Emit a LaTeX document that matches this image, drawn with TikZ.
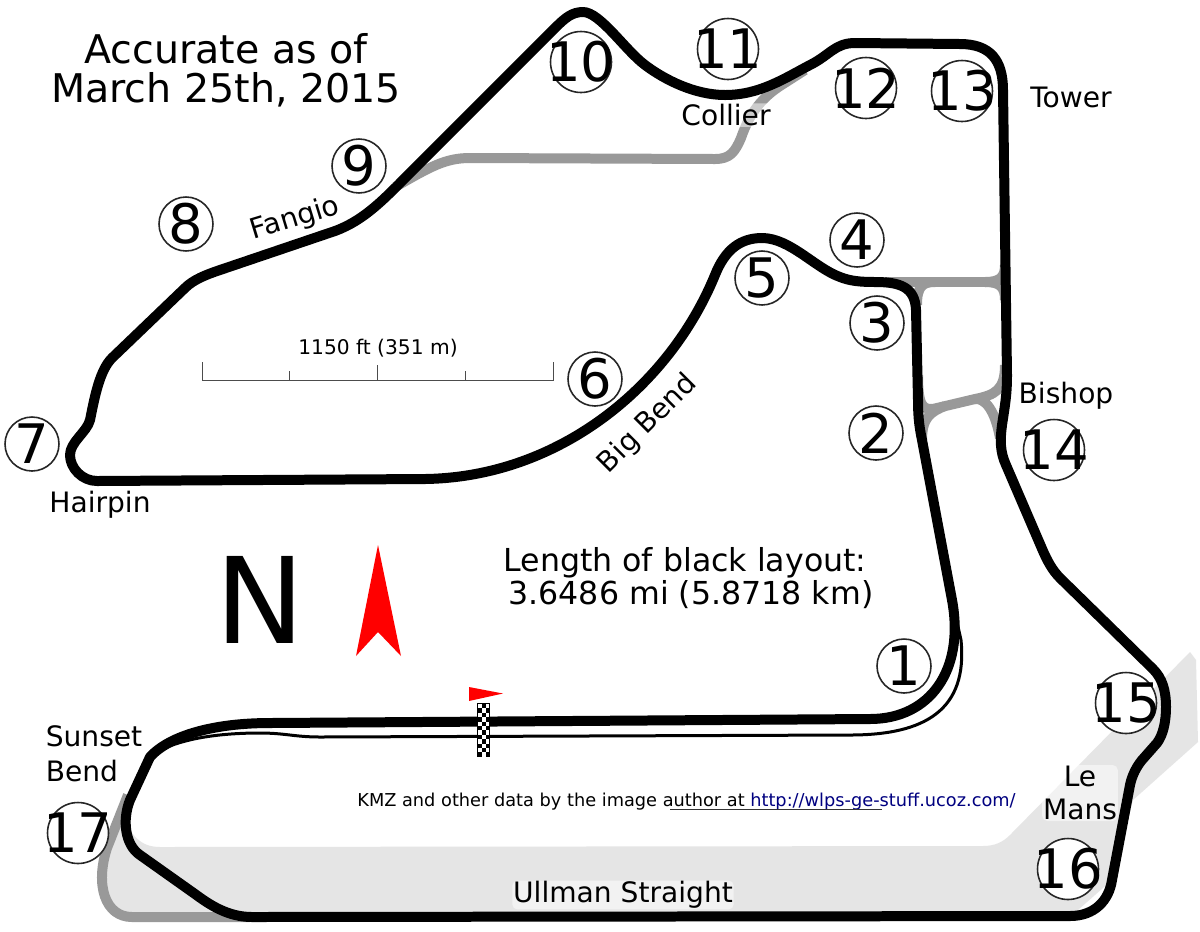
\documentclass[tikz,border=0pt]{standalone}
\usepackage{fontspec}
\setmainfont{DejaVu Sans}
\usepackage{xcolor}
\usetikzlibrary{positioning}
\definecolor{roadgray}{HTML}{999999}
\definecolor{runoff}{HTML}{E5E5E5}
\definecolor{linknavy}{HTML}{000080}
\newcommand{\fsz}[1]{\fontsize{#1}{#1}\selectfont}
\newcommand{\num}[1]{\makebox[0pt]{#1}}
\tikzset{
  track/.style={line width=0.2cm, line join=round},
  road/.style={line width=0.2cm, roadgray},
  turn/.style={circle, draw=black!85, fill=white, line width=0.9pt, inner sep=0pt, minimum size=1.08cm, font=\fsz{31}},
  bigturn/.style={turn, minimum size=1.22cm},
  tag/.style={font=\fsz{16}, inner sep=1pt},
  halo/.style={tag, fill=white, fill opacity=0.5, text opacity=1, rounded corners=3pt, inner sep=0.5pt},
  note/.style={font=\fsz{18}},
}
\begin{document}
\begin{tikzpicture}[x=0.02cm,y=-0.02cm]
\fill[white] (0,0) rectangle (1200,931);
\useasboundingbox (0,0) rectangle (1200,931);
% runoff
\fill[runoff] (1190,652) -- (1196,660) -- (1198,742) -- (1133,800) -- (1112,880) -- (1070,917) -- (130,917)
  .. controls (105,917) and (95,890) .. (103,860) -- (122,812)
  .. controls (130,835) and (140,847) .. (160,847) -- (983,846)
  .. controls (995,846) and (1003,842) .. (1010,835) -- cycle;
% service roads
\draw[road] (128,795) -- (107,848) .. controls (95,885) and (105,917) .. (132,917) -- (250,917);
\draw[road] (395,187) .. controls (430,167) and (445,158) .. (470,158) -- (715,159)
  .. controls (730,159) and (735,152) .. (741,138) .. controls (750,112) and (762,98) .. (780,86) -- (805,70);
\draw[road] (885,282) -- (985,282);
\draw[road] (1005,265) .. controls (1005,277) and (1000,282) .. (985,282);
\draw[road] (1005,300) .. controls (1005,287) and (1000,282) .. (985,282);
\draw[road] (917,305) .. controls (917,287) and (922,282) .. (935,282);
\draw[road] (918,375) .. controls (918,405) and (922,412) .. (937,408) -- (975,399)
  .. controls (995,395) and (1005,390) .. (1005,365);
\draw[road] (922,440) .. controls (922,418) and (930,412) .. (945,406);
\draw[road] (975,399) .. controls (985,398) and (995,410) .. (1000,438);
% short course
\draw[line width=0.06cm] (165,748) .. controls (190,737) and (225,733) .. (260,733) .. controls (285,733) and (295,737) .. (320,737)
  -- (850,735) .. controls (925,735) and (968,710) .. (961,640) -- (957,622);
% black layout
\draw[track] (870,719) -- (270,723)
  .. controls (215,723) and (170,735) .. (150,757) -- (130,800)
  .. controls (122,820) and (125,845) .. (140,855) -- (195,894)
  .. controls (210,905) and (228,917) .. (252,917) -- (1070,916)
  .. controls (1095,916) and (1109,900) .. (1112,880) -- (1130,785)
  .. controls (1132,775) and (1137,766) .. (1142,760) -- (1157,743)
  .. controls (1163,735) and (1166,722) .. (1166,707)
  .. controls (1166,690) and (1162,678) .. (1153,669) -- (1060,578)
  .. controls (1052,570) and (1047,560) .. (1043,551) -- (1006,465)
  .. controls (1000,452) and (1000,440) .. (1002,425)
  .. controls (1005,405) and (1007,395) .. (1007,375) -- (1003,90)
  .. controls (1003,60) and (990,44) .. (960,44) -- (855,43)
  .. controls (835,43) and (830,55) .. (810,65)
  .. controls (785,78) and (760,95) .. (725,95)
  .. controls (695,95) and (665,80) .. (645,65)
  .. controls (625,50) and (600,12) .. (583,12)
  .. controls (572,12) and (565,18) .. (555,28) -- (410,173)
  .. controls (385,198) and (365,220) .. (335,231) -- (220,270)
  .. controls (205,275) and (193,280) .. (185,288) -- (112,358)
  .. controls (100,370) and (95,395) .. (90,420)
  .. controls (87,432) and (70,442) .. (70,455)
  .. controls (70,468) and (82,481) .. (97,481) -- (425,479)
  .. controls (560,477) and (670,385) .. (715,275)
  .. controls (725,250) and (740,238) .. (762,238)
  .. controls (790,238) and (815,268) .. (840,277)
  .. controls (850,281) and (860,282) .. (875,282)
  .. controls (900,282) and (915,287) .. (916,310) -- (918,400)
  .. controls (918,420) and (920,430) .. (922,440) -- (952,600)
  .. controls (965,670) and (930,719) .. (870,719) -- cycle;
% start line
\fill[black] (477,703) rectangle (490,757);
\foreach \i in {0,...,11} {
  \foreach \j in {0,1,2} {
    \pgfmathparse{int(mod(\i+\j,2))}
    \ifnum\pgfmathresult=0 \fill[white] ({478+\j*3.8},{704+\i*4.4}) rectangle ++(3.8,4.4); \fi
  }
}
\fill[red] (469,687) -- (503,693.5) -- (469,701) -- cycle;
% north
\fill[red] (378,545) -- (401,656) -- (378,632) -- (356,656) -- cycle;
\node[font=\fsz{68}] (north) at (260,600) {N};
% scale bar
\draw[black!70, line width=0.4pt] (202,362) -- (202,380) -- (553,380) -- (553,362);
\draw[black!70, line width=0.4pt] (289.5,371) -- (289.5,380) (377,365) -- (377,380) (465,371) -- (465,380);
\node[font=\fsz{11.5}] (scale) at (378,348) {1150 ft (351 m)};
% texts
\node[font=\fsz{22.5}] (date1) at (226,49) {Accurate as of};
\node[font=\fsz{22.5}] (date2) at (226,90) {March 25th, 2015};
\node[note] (len1) at (685,563) {Length of black layout:};
\node[note] (len2) at (691,595) {3.6486 mi (5.8718 km)};
\node[font=\fsz{10.1}] (credit) at (686.5,802) {KMZ and other data by the image author at \textcolor{linknavy}{http://wlps-ge-stuff.ucoz.com/}};
\draw[black!80, line width=0.4pt] (670,809) -- (882,809);
% corner names
\node[tag] (tower) at (1071,97) {Tower};
\node[halo] (collier) at (726,115) {Collier};
\node[tag] (bishop) at (1066,396) {Bishop};
\node[halo, align=center] (lemans) at (1080,793) {Le\\[3pt]Mans};
\node[halo] (ullman) at (623,895) {Ullman Straight};
\node[tag, align=left] (sunset) at (94,754) {Sunset\\[4pt]Bend};
\node[tag] (hairpin) at (100,505) {Hairpin};
\node[tag, rotate=17] (fangio) at (295,219) {Fangio};
\node[tag, rotate=45] (bigbend) at (648,424) {Big Bend};
% turn numbers
\node[turn] (t1) at (904,666) {\num{1}};
\node[turn] (t2) at (876,433) {\num{2}};
\node[turn] (t3) at (877,323) {\num{3}};
\node[turn] (t4) at (857,240) {\num{4}};
\node[turn] (t5) at (762,278) {\num{5}};
\node[turn] (t6) at (595,379) {\num{6}};
\node[turn] (t7) at (32,444) {\num{7}};
\node[turn] (t8) at (186,224) {\num{8}};
\node[turn] (t9) at (359,166) {\num{9}};
\node[bigturn] (t10) at (581,62) {\num{10}};
\node[bigturn] (t11) at (728,49) {\num{11}};
\node[bigturn] (t12) at (866,88) {\num{12}};
\node[bigturn] (t13) at (962,91) {\num{13}};
\node[bigturn] (t14) at (1054,450) {\num{14}};
\node[bigturn] (t15) at (1126,703) {\num{15}};
\node[bigturn] (t16) at (1068,869) {\num{16}};
\node[bigturn] (t17) at (78,833) {\num{17}};
\end{tikzpicture}
\end{document}
